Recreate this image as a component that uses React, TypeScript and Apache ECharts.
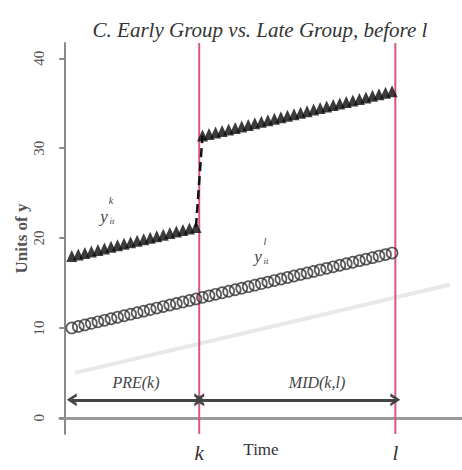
import React, { useEffect, useRef } from "react";
import * as echarts from "echarts";

// Time index and values
const preTime = [1, 2, 3, 4, 5, 6, 7, 8, 9, 10, 11, 12, 13, 14, 15, 16, 17, 18, 19, 20];
const postTime = [21, 22, 23, 24, 25, 26, 27, 28, 29, 30, 31, 32, 33, 34, 35, 36, 37, 38, 39, 40, 41, 42, 43, 44, 45, 46, 47, 48, 49, 50];
const earlyPre = [18.0, 18.17, 18.34, 18.51, 18.68, 18.85, 19.02, 19.19, 19.36, 19.53, 19.7, 19.87, 20.04, 20.21, 20.38, 20.55, 20.72, 20.89, 21.06, 21.23];
const earlyPost = [31.4, 31.57, 31.74, 31.91, 32.08, 32.25, 32.42, 32.59, 32.76, 32.93, 33.1, 33.27, 33.44, 33.61, 33.78, 33.95, 34.12, 34.29, 34.46, 34.63, 34.8, 34.97, 35.14, 35.31, 35.48, 35.65, 35.82, 35.99, 36.16, 36.33];
const lateAll = [10.0, 10.17, 10.34, 10.51, 10.68, 10.85, 11.02, 11.19, 11.36, 11.53, 11.7, 11.87, 12.04, 12.21, 12.38, 12.55, 12.72, 12.89, 13.06, 13.23, 13.4, 13.57, 13.74, 13.91, 14.08, 14.25, 14.42, 14.59, 14.76, 14.93, 15.1, 15.27, 15.44, 15.61, 15.78, 15.95, 16.12, 16.29, 16.46, 16.63, 16.8, 16.97, 17.14, 17.31, 17.48, 17.65, 17.82, 17.99, 18.16, 18.33];
const counterfactualT = [1.5, 58.8];
const counterfactualY = [5.0, 14.8];
const kTime = 20.5;
const lTime = 50.5;
const arrowStart = 1;
const arrowY = 2;
const yTicks = [0, 10, 20, 30, 40];
const xMin = -0.8;
const xMax = 60.7;
const yMin = -1.8;
const yMax = 41.7;

const SERIF = "'Liberation Serif', 'DejaVu Serif', serif";
const chevron = "path://M0,10 L5,0 L10,10 L7.6,10 L5,4.6 L2.4,10 Z";

export default function App() {
  const ref = useRef<HTMLDivElement>(null);
  useEffect(() => {
    if (!ref.current) return;
    const chart = echarts.init(ref.current, undefined, { renderer: "svg" });
    const allTime = [...preTime, ...postTime];
    const txt = (x: number, y: number, text: string, size: number, color = "#444") => ({
      type: "text",
      x,
      y,
      style: {
        text,
        fontFamily: SERIF,
        fontStyle: "italic",
        fontSize: size,
        fill: color,
        align: "center",
        verticalAlign: "middle",
      },
    });
    const option: any = {
      animation: false,
      backgroundColor: "#ffffff",
      grid: { left: 60, right: 0, top: 43, bottom: 36, outerBoundsMode: "none", containLabel: false },
      xAxis: {
        type: "value",
        min: xMin,
        max: xMax,
        splitLine: { show: false },
        axisLine: { show: true, lineStyle: { color: "#9a9a9a", width: 3 } },
        axisTick: { show: false },
        axisLabel: {
          customValues: [kTime, lTime],
          formatter: (v: number) => (v === kTime ? "k" : "l"),
          fontFamily: SERIF,
          fontStyle: "italic",
          fontSize: 21,
          color: "#333",
          margin: 8,
        },
        name: "Time",
        nameLocation: "middle",
        nameGap: 7,
        nameMoveOverlap: false,
        nameTextStyle: { fontFamily: SERIF, fontSize: 17, color: "#333", verticalAlign: "top" },
      },
      yAxis: {
        type: "value",
        min: yMin,
        max: yMax,
        splitLine: { show: false },
        axisLine: { show: true, lineStyle: { color: "#8a8a8a", width: 2 } },
        axisTick: { show: true, customValues: yTicks, length: 6, lineStyle: { color: "#8a8a8a", width: 2 } },
        axisLabel: {
          customValues: yTicks,
          rotate: 90,
          fontFamily: SERIF,
          fontSize: 15,
          color: "#555",
          margin: 14,
        },
        name: "Units of y",
        nameLocation: "middle",
        nameGap: 30,
        nameMoveOverlap: false,
        nameTextStyle: { fontFamily: SERIF, fontSize: 17, color: "#555", fontWeight: "bold" },
      },
      series: [
        {
          type: "line",
          data: counterfactualT.map((t, i) => [t, counterfactualY[i]]),
          showSymbol: false,
          lineStyle: { color: "#e8e8e8", width: 4 },
          silent: true,
          z: 1,
        },
        {
          type: "line",
          data: [[kTime, yMin], [kTime, yMax]],
          showSymbol: false,
          lineStyle: { color: "#d6577f", width: 2 },
          z: 2,
        },
        {
          type: "line",
          data: [[lTime, yMin], [lTime, yMax]],
          showSymbol: false,
          lineStyle: { color: "#d6577f", width: 2 },
          z: 2,
        },
        {
          type: "line",
          data: [
            [preTime[preTime.length - 1], earlyPre[earlyPre.length - 1]],
            [postTime[0], earlyPost[0]],
          ],
          showSymbol: false,
          lineStyle: { color: "#111", width: 2.5, type: [9, 5] },
          z: 3,
        },
        {
          type: "scatter",
          data: preTime.map((t, i) => [t, earlyPre[i]]),
          symbol: "triangle",
          symbolSize: [11, 12],
          itemStyle: { color: "#0a0a0a" },
          z: 4,
        },
        {
          type: "scatter",
          data: postTime.map((t, i) => [t, earlyPost[i]]),
          symbol: "triangle",
          symbolSize: [11, 12],
          itemStyle: { color: "#0a0a0a" },
          z: 4,
        },
        {
          type: "scatter",
          data: allTime.map((t, i) => [t, lateAll[i]]),
          symbol: "circle",
          symbolSize: 11,
          itemStyle: { color: "rgba(0,0,0,0)", borderColor: "#333", borderWidth: 1.7 },
          z: 4,
        },
        {
          type: "line",
          data: [],
          markLine: {
            silent: true,
            symbol: [chevron, chevron],
            symbolSize: [13, 10],
            label: { show: false },
            lineStyle: { color: "#444", width: 3, type: "solid" },
            data: [
              [{ coord: [arrowStart, arrowY] }, { coord: [kTime, arrowY] }],
              [{ coord: [kTime, arrowY] }, { coord: [lTime, arrowY] }],
            ],
          },
        },
      ],
      graphic: [
        txt(260, 30, "C. Early Group vs. Late Group, before l", 21, "#333"),
        txt(136, 382, "PRE(k)", 16),
        txt(317, 382, "MID(k,l)", 16),
        txt(104, 216, "y", 17),
        txt(111, 200, "k", 10),
        txt(112, 221, "it", 9),
        txt(258, 256, "y", 17),
        txt(265, 241, "l", 10),
        txt(266, 261, "it", 9),
      ],
    };
    chart.setOption(option);
    return () => chart.dispose();
  }, []);
  return <div ref={ref} style={{ width: 462, height: 470, position: "absolute", left: 0, top: 0 }} />;
}
